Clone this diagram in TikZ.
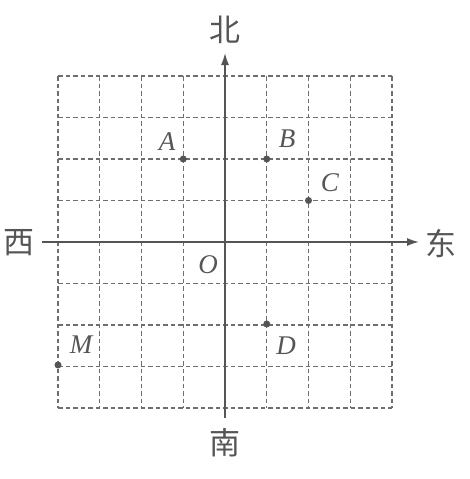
\documentclass[tikz,border=0pt]{standalone}
\usepackage{fontspec}
\setmainfont{Liberation Serif}
\newfontfamily\cjk{Noto Sans CJK SC}
\usetikzlibrary{arrows.meta}
\definecolor{ink}{HTML}{555555}
\tikzset{
  gridline/.style={draw=ink!85, line width=1.1pt, dash pattern=on 4.5pt off 3pt},
  axisline/.style={draw=ink, line width=1.6pt, -{Latex[length=12pt,width=8pt]}},
  dirlabel/.style={text=ink, font=\cjk\fontsize{31}{31}\selectfont, inner sep=0pt},
  ptlabel/.style={text=ink, font=\itshape\fontsize{27}{27}\selectfont, inner sep=0pt},
  pt/.style={circle, fill=ink, inner sep=0pt, minimum size=7pt}
}
\begin{document}
\begin{tikzpicture}[x=1pt,y=-1pt]
\useasboundingbox (0,0) rectangle (469,479);
% grid
\foreach \i in {-4,...,4} {
  \draw[gridline] ({225+41.75*\i},76) -- ({225+41.75*\i},408);
  \draw[gridline] (58,{242+41.5*\i}) -- (392,{242+41.5*\i});
}
% axes
\coordinate (wS) at (42,242);
\coordinate (wE) at (419,242);
\coordinate (sS) at (225,418);
\coordinate (sN) at (225,53);
\draw[axisline] (wS) -- (wE);
\draw[axisline] (sS) -- (sN);
% direction labels
\node[dirlabel] (north) at (225,30) {北};
\node[dirlabel] (south) at (225,443) {南};
\node[dirlabel] (west) at (19,243) {西};
\node[dirlabel] (east) at (441,243) {东};
% points
\node[pt] (A) at (183.25,159) {};
\node[pt] (B) at (266.75,159) {};
\node[pt] (C) at (308.5,200.5) {};
\node[pt] (D) at (266.75,324) {};
\node[pt] (M) at (58,365) {};
\node[ptlabel] (lA) at (167,142) {A};
\node[ptlabel] (lB) at (287,139) {B};
\node[ptlabel] (lC) at (330,183) {C};
\node[ptlabel] (lD) at (286,346) {D};
\node[ptlabel] (lM) at (81,345) {M};
\node[ptlabel] (lO) at (208,265) {O};
\end{tikzpicture}
\end{document}
